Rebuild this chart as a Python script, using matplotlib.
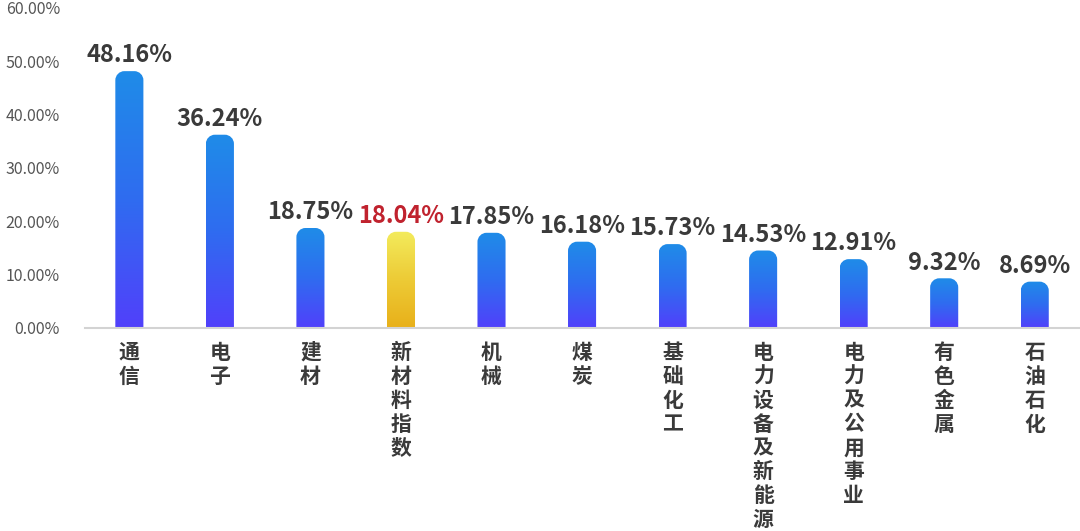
import numpy as np
import matplotlib
matplotlib.use("Agg")
import matplotlib.pyplot as plt
from matplotlib.path import Path
from matplotlib.patches import PathPatch
from matplotlib.colors import LinearSegmentedColormap

plt.rcParams["font.family"] = ["Noto Sans CJK SC", "DejaVu Sans"]

# ---------------- data ----------------
categories = ["通信", "电子", "建材", "新材料指数", "机械", "煤炭", "基础化工",
              "电力设备及新能源", "电力及公用事业", "有色金属", "石油石化"]
values = [48.16, 36.24, 18.75, 18.04, 17.85, 16.18, 15.73, 14.53, 12.91, 9.32, 8.69]
highlight = "新材料指数"
yticks = [0, 10, 20, 30, 40, 50, 60]

# ---------------- style ----------------
blue_cmap = LinearSegmentedColormap.from_list("b", ["#5140FB", "#2F6CF0", "#1F8CE8"])
gold_cmap = LinearSegmentedColormap.from_list("g", ["#E8B01A", "#EDCB36", "#F3EB5C"])
bar_w = 0.31
rx, ry = 0.1, 1.7


def top_rounded(x0, x1, h):
    k = 0.5523
    verts = [(x0, 0), (x0, h - ry),
             (x0, h - ry + k * ry), (x0 + rx - k * rx, h), (x0 + rx, h),
             (x1 - rx, h),
             (x1 - rx + k * rx, h), (x1, h - ry + k * ry), (x1, h - ry),
             (x1, 0), (x0, 0)]
    codes = [Path.MOVETO, Path.LINETO,
             Path.CURVE4, Path.CURVE4, Path.CURVE4,
             Path.LINETO,
             Path.CURVE4, Path.CURVE4, Path.CURVE4,
             Path.LINETO, Path.CLOSEPOLY]
    return Path(verts, codes)


fig = plt.figure(figsize=(10.8, 5.31), dpi=100)
ax = fig.add_axes([85 / 1080, 1 - 328 / 531, 1 - 85 / 1080, 320 / 531])

grad = np.linspace(0, 1, 256).reshape(-1, 1)

for i, (cat, v) in enumerate(zip(categories, values)):
    x0, x1 = i - bar_w / 2, i + bar_w / 2
    patch = PathPatch(top_rounded(x0, x1, v), facecolor="none", edgecolor="none")
    ax.add_patch(patch)
    cmap = gold_cmap if cat == highlight else blue_cmap
    im = ax.imshow(grad, cmap=cmap, origin="lower", aspect="auto",
                   extent=[x0, x1, 0, v], zorder=2)
    im.set_clip_path(patch)

    ax.text(i, v + 0.7, f"{v:.2f}%", ha="center", va="bottom",
            fontsize=17, fontweight="bold",
            color="#C0222E" if cat == highlight else "#3A3A3A")

    ax.text(i, -2.6, "\n".join(cat), ha="center", va="top",
            fontsize=15, fontweight="bold", color="#3A3A3A",
            linespacing=1.17)

ax.set_xlim(-0.49, len(categories) - 0.5)
ax.set_ylim(0, 60)
ax.set_yticks(yticks)
ax.set_yticklabels([f"{t:.2f}%" for t in yticks], fontsize=11.5, color="#555555")
ax.tick_params(axis="y", length=0, pad=18)
ax.set_xticks([])

for s in ["top", "right", "left"]:
    ax.spines[s].set_visible(False)
ax.spines["bottom"].set_color("#D3D3D3")
ax.spines["bottom"].set_linewidth(1.5)

fig.savefig("out.png", dpi=100)
